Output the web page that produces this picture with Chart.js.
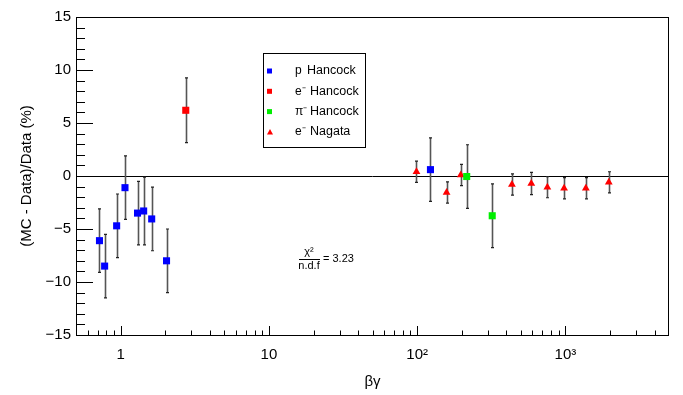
<!DOCTYPE html>
<html>
<head>
<meta charset="utf-8">
<script src="https://cdn.jsdelivr.net/npm/chart.js@4"></script>
<style>
  html, body { margin: 0; padding: 0; background: #fff; }
  #wrap { width: 683px; height: 395px; }
</style>
</head>
<body>
<div id="wrap"><canvas id="chart"></canvas></div>
<script>
// p Hancock
const protonX = [0.72, 0.78, 0.94, 1.07, 1.30, 1.43, 1.62, 2.04, 123];
const protonY = [-6.1, -8.5, -4.7, -1.1, -3.5, -3.3, -4.05, -8.0, 0.6];
const protonErr = [3.0, 3.0, 3.0, 3.0, 3.0, 3.2, 3.0, 3.0, 3.0];

// e- Hancock
const elecHancockX = [2.75];
const elecHancockY = [6.2];
const elecHancockErr = [3.05];

// pi- Hancock
const pionX = [216, 321];
const pionY = [-0.05, -3.75];
const pionErr = [3.0, 3.0];

// e- Nagata
const nagataX = [99, 158, 197, 436, 589, 756, 980, 1374, 1963];
const nagataY = [0.4, -1.55, 0.1, -0.8, -0.7, -1.05, -1.15, -1.15, -0.6];
const nagataErr = [1.0, 1.0, 1.0, 1.0, 1.05, 1.0, 1.0, 1.0, 1.0];

const seriesNames = ['p', 'e\u207B', '\u03C0\u207B', 'e\u207B'];
const seriesAuthors = ['Hancock', 'Hancock', 'Hancock', 'Nagata'];

const xTickValues = [1, 10, 100, 1000];
const xTickLabels = ['1', '10', '10\u00B2', '10\u00B3'];
const yTickValues = [-15, -10, -5, 0, 5, 10, 15];
const yTickLabels = ['\u221215', '\u221210', '\u22125', '0', '5', '10', '15'];

const chiText = '\u03C7\u00B2';
const ndfText = 'n.d.f';
const chiValue = '= 3.23';

const X_MIN = 0.5, X_MAX = 5000, Y_MIN = -15, Y_MAX = 15;

function points(xs, ys, errs) {
    return xs.map((x, i) => ({ x: x, y: ys[i], err: errs[i] }));
}

function makeSet(label, xs, ys, errs, color, style, radius) {
    return {
        label: label,
        data: points(xs, ys, errs),
        backgroundColor: color,
        borderColor: color,
        borderWidth: 0,
        pointStyle: style,
        pointRadius: radius,
        pointHoverRadius: radius,
        showLine: false
    };
}

const datasets = [
    makeSet('p Hancock', protonX, protonY, protonErr, '#0000ff', 'rect', 5),
    makeSet('e- Hancock', elecHancockX, elecHancockY, elecHancockErr, '#ff0000', 'rect', 5),
    makeSet('pi- Hancock', pionX, pionY, pionErr, '#00ee00', 'rect', 5),
    makeSet('e- Nagata', nagataX, nagataY, nagataErr, '#ff0000', 'triangle', 4.5)
];

// zero line + error bars under the markers
const errorBars = {
    id: 'errorBars',
    beforeDatasetsDraw(chart) {
        const { ctx, chartArea: a, scales: { x, y } } = chart;
        ctx.save();
        const y0 = Math.round(y.getPixelForValue(0)) + 0.5;
        ctx.strokeStyle = '#000';
        ctx.lineWidth = 1;
        ctx.beginPath();
        ctx.moveTo(a.left, y0);
        ctx.lineTo(a.right, y0);
        ctx.stroke();

        chart.data.datasets.forEach(ds => {
            ds.data.forEach(p => {
                const px = Math.round(x.getPixelForValue(p.x)) + 0.5;
                const top = y.getPixelForValue(p.y + p.err);
                const bot = y.getPixelForValue(p.y - p.err);
                ctx.strokeStyle = '#555';
                ctx.lineWidth = 1.6;
                ctx.beginPath();
                ctx.moveTo(px, top);
                ctx.lineTo(px, bot);
                ctx.stroke();
                ctx.strokeStyle = '#222';
                ctx.lineWidth = 1.2;
                ctx.beginPath();
                ctx.moveTo(px - 1.5, top);
                ctx.lineTo(px + 1.5, top);
                ctx.moveTo(px - 1.5, bot);
                ctx.lineTo(px + 1.5, bot);
                ctx.stroke();
            });
        });
        ctx.restore();
    }
};

// frame, inward tick marks, legend box and chi2 note
const frameAndNotes = {
    id: 'frameAndNotes',
    afterDraw(chart) {
        const { ctx, chartArea: a, scales: { x, y } } = chart;
        ctx.save();
        ctx.strokeStyle = '#000';
        ctx.lineWidth = 1;
        ctx.strokeRect(a.left + 0.5, a.top + 0.5, a.right - a.left - 1, a.bottom - a.top);

        ctx.beginPath();
        for (let v = Y_MIN; v <= Y_MAX; v++) {
            const py = Math.round(y.getPixelForValue(v)) + 0.5;
            const len = v % 5 === 0 ? 17 : 9;
            ctx.moveTo(a.left, py);
            ctx.lineTo(a.left + len, py);
        }
        for (let d = -1; d <= 3; d++) {
            for (let k = 1; k <= 9; k++) {
                const v = k * Math.pow(10, d);
                if (v <= X_MIN || v >= X_MAX) continue;
                const px = Math.round(x.getPixelForValue(v)) + 0.5;
                const len = k === 1 ? 9 : 4.5;
                ctx.moveTo(px, a.bottom);
                ctx.lineTo(px, a.bottom - len);
            }
        }
        ctx.stroke();

        // legend
        const bx = 263, by = 53, bw = 102, bh = 94;
        ctx.fillStyle = '#fff';
        ctx.fillRect(bx, by, bw, bh);
        ctx.strokeRect(bx + 0.5, by + 0.5, bw, bh);
        ctx.textBaseline = 'middle';
        chart.data.datasets.forEach((ds, i) => {
            const ry = 71 + i * 20.3;
            ctx.fillStyle = ds.backgroundColor;
            if (ds.pointStyle === 'triangle') {
                ctx.beginPath();
                ctx.moveTo(270, ry - 3);
                ctx.lineTo(273, ry + 2.5);
                ctx.lineTo(267, ry + 2.5);
                ctx.closePath();
                ctx.fill();
            } else {
                ctx.fillRect(267, ry - 2.5, 5, 5);
            }
            ctx.fillStyle = '#000';
            ctx.textAlign = 'left';
            ctx.font = '12px "Liberation Sans", Arial, sans-serif';
            ctx.fillText(seriesNames[i], 295, ry);
            ctx.font = '12.5px "Liberation Sans", Arial, sans-serif';
            ctx.fillText(seriesAuthors[i], i === 0 ? 307 : 310, ry);
        });

        // chi2 / ndf
        ctx.font = '11px "Liberation Sans", Arial, sans-serif';
        ctx.textAlign = 'center';
        ctx.fillText(chiText, 309, 252);
        ctx.fillText(ndfText, 309, 266);
        ctx.beginPath();
        ctx.moveTo(299, 259.5);
        ctx.lineTo(320, 259.5);
        ctx.stroke();
        ctx.textAlign = 'left';
        ctx.fillText(chiValue, 323, 259);
        ctx.restore();
    }
};

const tickFont = { family: '"Liberation Sans", Arial, sans-serif', size: 15 };

new Chart(document.getElementById('chart'), {
    type: 'scatter',
    data: { datasets: datasets },
    options: {
        responsive: true,
        maintainAspectRatio: false,
        animation: false,
        events: [],
        layout: { padding: { left: 0, right: 14, top: 17, bottom: 0 } },
        plugins: { legend: { display: false }, tooltip: { enabled: false } },
        scales: {
            x: {
                type: 'logarithmic',
                min: X_MIN,
                max: X_MAX,
                grid: { display: false, drawTicks: false },
                border: { display: false },
                afterBuildTicks: s => { s.ticks = xTickValues.map(v => ({ value: v })); },
                afterFit: s => { s.height = 60; },
                ticks: {
                    autoSkip: false,
                    maxRotation: 0,
                    padding: 11,
                    color: '#000',
                    font: tickFont,
                    callback: v => xTickLabels[xTickValues.indexOf(v)]
                },
                title: {
                    display: true,
                    text: '\u03B2\u03B3',
                    color: '#000',
                    font: tickFont,
                    padding: { top: 0, bottom: 4 }
                }
            },
            y: {
                min: Y_MIN,
                max: Y_MAX,
                grid: { display: false, drawTicks: false },
                border: { display: false },
                afterBuildTicks: s => { s.ticks = yTickValues.map(v => ({ value: v })); },
                afterFit: s => { s.width = 76; },
                ticks: {
                    autoSkip: false,
                    padding: 5,
                    color: '#000',
                    font: tickFont,
                    callback: v => yTickLabels[yTickValues.indexOf(v)]
                },
                title: {
                    display: true,
                    text: '(MC - Data)/Data (%)',
                    color: '#000',
                    font: tickFont,
                    padding: { top: 18, bottom: 0 }
                }
            }
        }
    },
    plugins: [errorBars, frameAndNotes]
});
</script>
</body>
</html>
